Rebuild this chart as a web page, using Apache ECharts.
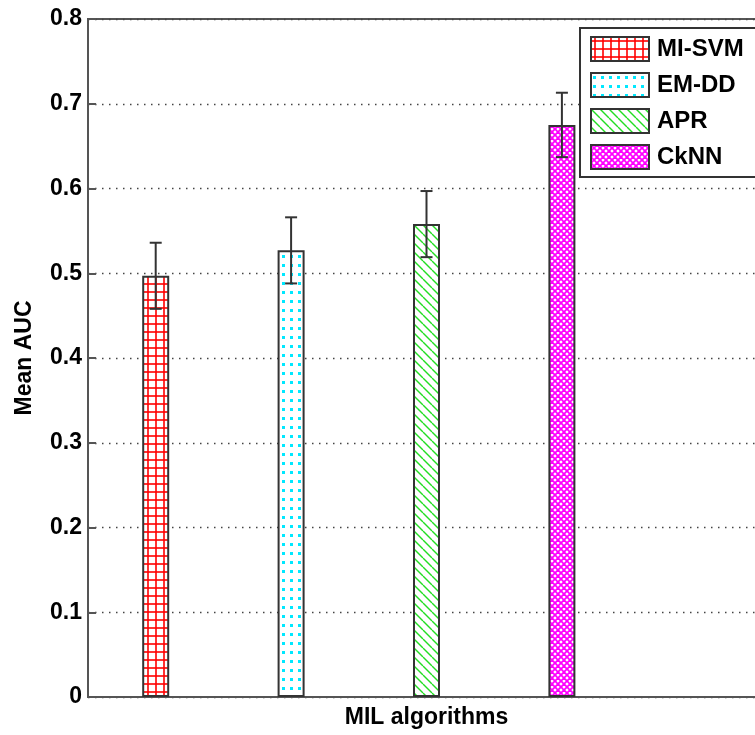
<!DOCTYPE html>
<html>
<head>
<meta charset="utf-8">
<script src="https://cdn.jsdelivr.net/npm/echarts@6/dist/echarts.min.js"></script>
<style>
  html, body { margin: 0; padding: 0; background: #fff; }
  #chart { width: 755px; height: 735px; }
</style>
</head>
<body>
<div id="chart"></div>
<script>
// Algorithms, their mean AUC and the error-bar half-widths
const algorithms = ['MI-SVM', 'EM-DD', 'APR', 'CkNN'];
const positions = [1, 2, 3, 4];
const meanAUC = [0.497, 0.527, 0.558, 0.675];
const errAUC = [0.039, 0.039, 0.039, 0.038];
const yTicks = [0, 0.1, 0.2, 0.3, 0.4, 0.5, 0.6, 0.7, 0.8];

const FONT = "'Liberation Sans', Arial, Helvetica, sans-serif";

// Hatch fills drawn on small tiles and repeated
function tile(w, h, draw) {
  const c = document.createElement('canvas');
  c.width = w; c.height = h;
  const g = c.getContext('2d');
  g.fillStyle = '#fff';
  g.fillRect(0, 0, w, h);
  draw(g, w, h);
  return { image: c, repeat: 'repeat' };
}
const fills = [
  // red square grid
  tile(8, 8, (g) => {
    g.fillStyle = 'rgba(255,0,0,0.8)';
    g.fillRect(3, 0, 2, 8);
    g.fillRect(0, 3, 8, 2);
  }),
  // cyan dots
  tile(8, 9, (g) => {
    g.fillStyle = '#00e8ff';
    g.fillRect(2, 3, 3, 3);
  }),
  // green back-diagonal lines
  tile(9, 9, (g) => {
    g.strokeStyle = '#22dd22';
    g.lineWidth = 1.4;
    [-9, 0, 9].forEach((x0) => {
      g.beginPath(); g.moveTo(x0, 0); g.lineTo(x0 + 9, 9); g.stroke();
    });
  }),
  // magenta diagonal crosshatch
  tile(6, 6, (g) => {
    g.strokeStyle = '#ff00ff';
    g.lineWidth = 1.8;
    [-6, 0, 6].forEach((x0) => {
      g.beginPath(); g.moveTo(x0, 0); g.lineTo(x0 + 6, 6); g.stroke();
      g.beginPath(); g.moveTo(x0, 6); g.lineTo(x0 + 6, 0); g.stroke();
    });
  })
];

const barSeries = algorithms.map((name, i) => ({
  name: name,
  type: 'bar',
  barWidth: 27,
  barGap: '-100%',
  data: [[positions[i], meanAUC[i]]],
  itemStyle: { color: fills[i], borderColor: '#333', borderWidth: 2 },
  emphasis: { disabled: true },
  z: 2
}));

const errorSeries = {
  type: 'custom',
  name: 'error',
  data: positions.map((p, i) => [p, meanAUC[i] - errAUC[i], meanAUC[i] + errAUC[i]]),
  renderItem: function (params, api) {
    const lo = api.coord([api.value(0), api.value(1)]);
    const hi = api.coord([api.value(0), api.value(2)]);
    const half = 6;
    const style = { stroke: '#333', lineWidth: 2 };
    return {
      type: 'group',
      children: [
        { type: 'line', shape: { x1: lo[0], y1: lo[1], x2: hi[0], y2: hi[1] }, style: style },
        { type: 'line', shape: { x1: lo[0] - half, y1: lo[1], x2: lo[0] + half, y2: lo[1] }, style: style },
        { type: 'line', shape: { x1: hi[0] - half, y1: hi[1], x2: hi[0] + half, y2: hi[1] }, style: style }
      ]
    };
  },
  z: 5,
  silent: true
};

const chart = echarts.init(document.getElementById('chart'), null, { renderer: 'canvas' });
chart.setOption({
  animation: false,
  backgroundColor: '#fff',
  grid: {
    left: 88, top: 19, width: 677, height: 678,
    outerBoundsMode: 'none',
    containLabel: false,
    show: true, borderColor: '#555', borderWidth: 2, backgroundColor: 'transparent'
  },
  legend: {
    data: algorithms,
    orient: 'vertical',
    left: 580, top: 28,
    icon: 'rect',
    itemWidth: 58, itemHeight: 24, itemGap: 10,
    padding: [8, 60, 7, 10],
    borderColor: '#333', borderWidth: 2,
    backgroundColor: '#fff',
    textStyle: { fontFamily: FONT, fontWeight: 'bold', fontSize: 24, color: '#000', padding: [0, 0, 0, 3] },
    selectedMode: false
  },
  xAxis: {
    type: 'value',
    min: 0.5, max: 5.5,
    name: 'MIL algorithms',
    nameLocation: 'middle',
    nameGap: 9,
    nameTextStyle: { fontFamily: FONT, fontWeight: 'bold', fontSize: 23, color: '#000' },
    axisLine: { show: true, onZero: false, lineStyle: { color: '#555', width: 2 } },
    axisTick: { show: false },
    axisLabel: { show: false },
    splitLine: { show: false }
  },
  yAxis: {
    type: 'value',
    min: yTicks[0], max: yTicks[yTicks.length - 1], interval: 0.1,
    name: 'Mean AUC',
    nameLocation: 'middle',
    nameGap: 52,
    nameTextStyle: { fontFamily: FONT, fontWeight: 'bold', fontSize: 23, color: '#000' },
    axisLine: { show: true, lineStyle: { color: '#555', width: 2 } },
    axisTick: { show: true, inside: true, length: 8, lineStyle: { color: '#555', width: 2 } },
    axisLabel: {
      margin: 6,
      fontFamily: FONT, fontWeight: 'bold', fontSize: 23, color: '#000',
      formatter: (v) => String(+v.toFixed(1))
    },
    splitLine: { show: true, lineStyle: { color: '#444', width: 1.3, type: [1.5, 5.5] } }
  },
  series: barSeries.concat([errorSeries])
});
</script>
</body>
</html>
